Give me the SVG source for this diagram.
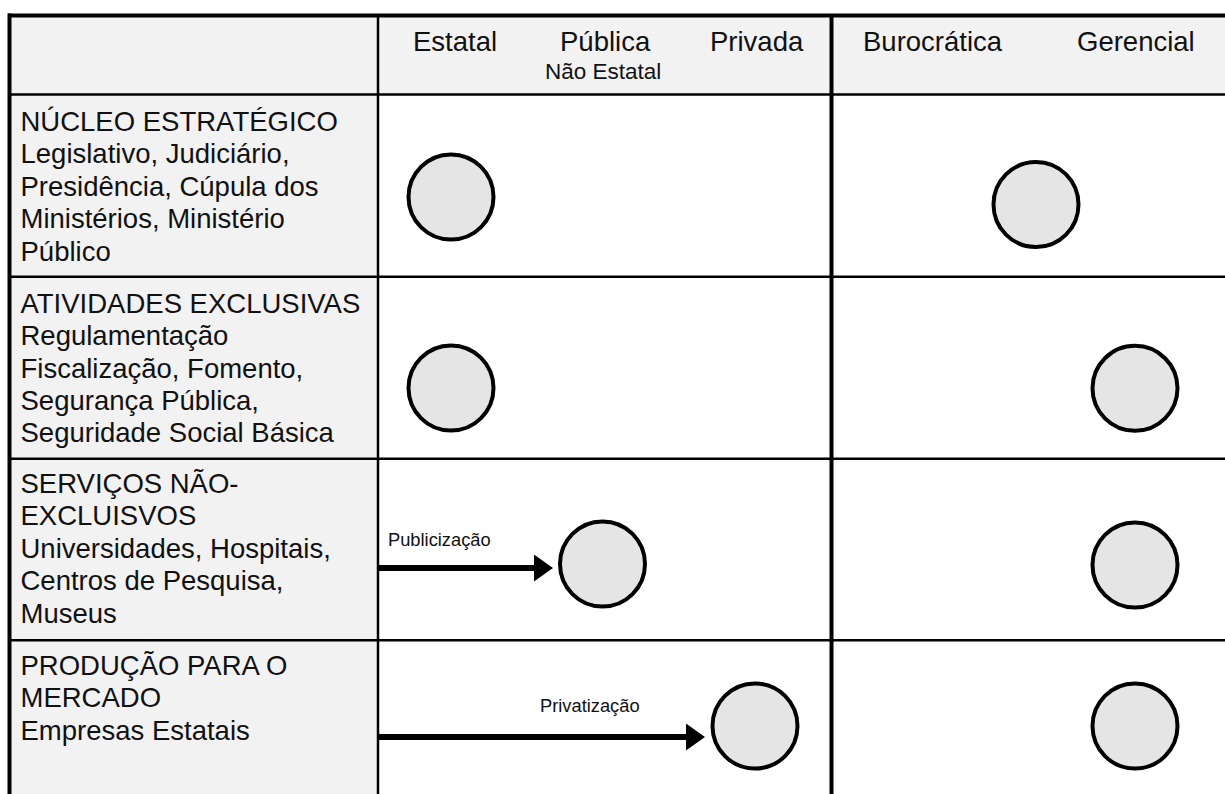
<svg xmlns="http://www.w3.org/2000/svg" width="1225" height="794" viewBox="0 0 1225 794">
  <style>
    .t { font-family: "Liberation Sans", Arial, sans-serif; fill: #111; }
    .lab { font-size: 27.5px; }
    .sub { font-size: 22.5px; }
    .arr { font-size: 18.3px; }
    .grid { stroke: #000; fill: none; }
    .c { fill: #e5e5e5; stroke: #000; stroke-width: 4; }
    .conn { stroke: #000; stroke-width: 6; fill: none; }
  </style>
  <defs>
    <marker id="ah" viewBox="0 0 19 27" markerWidth="19" markerHeight="27" markerUnits="userSpaceOnUse" refX="1" refY="13.5" orient="auto">
      <path d="M0,0 L19,13.5 L0,27 Z" fill="#000"/>
    </marker>
  </defs>
  <rect x="0" y="0" width="1225" height="794" fill="#fff"/>

  <g id="table">
    <rect x="10" y="15" width="1215" height="79" fill="#f2f2f2"/>
    <rect x="10" y="94" width="368" height="700" fill="#f2f2f2"/>
    <line class="grid" x1="8" y1="15.5" x2="1225" y2="15.5" stroke-width="4"/>
    <line class="grid" x1="9.5" y1="13.5" x2="9.5" y2="794" stroke-width="4"/>
    <line class="grid" x1="10" y1="94.5" x2="1225" y2="94.5" stroke-width="2.5"/>
    <line class="grid" x1="10" y1="276.8" x2="1225" y2="276.8" stroke-width="2.5"/>
    <line class="grid" x1="10" y1="458.8" x2="1225" y2="458.8" stroke-width="2.5"/>
    <line class="grid" x1="10" y1="640.3" x2="1225" y2="640.3" stroke-width="2.5"/>
    <line class="grid" x1="378" y1="15" x2="378" y2="794" stroke-width="2.5"/>
    <line class="grid" x1="831.5" y1="15" x2="831.5" y2="794" stroke-width="4"/>
  </g>

  <g id="header">
    <text class="t lab" x="413" y="51">Estatal</text>
    <text class="t lab" x="560" y="51">Pública</text>
    <text class="t sub" x="545" y="79">Não Estatal</text>
    <text class="t lab" x="710" y="51">Privada</text>
    <text class="t lab" x="863" y="51">Burocrática</text>
    <text class="t lab" x="1077" y="51">Gerencial</text>
  </g>

  <g id="row-nucleo">
    <text class="t lab" x="20.5" y="131">NÚCLEO ESTRATÉGICO</text>
    <text class="t lab" x="20.5" y="163.4">Legislativo, Judiciário,</text>
    <text class="t lab" x="20.5" y="195.8">Presidência, Cúpula dos</text>
    <text class="t lab" x="20.5" y="228.2">Ministérios, Ministério</text>
    <text class="t lab" x="20.5" y="260.6">Público</text>
  </g>
  <g id="row-atividades">
    <text class="t lab" x="20.5" y="312.7">ATIVIDADES EXCLUSIVAS</text>
    <text class="t lab" x="20.5" y="345.1">Regulamentação</text>
    <text class="t lab" x="20.5" y="377.5">Fiscalização, Fomento,</text>
    <text class="t lab" x="20.5" y="409.9">Segurança Pública,</text>
    <text class="t lab" x="20.5" y="442.3">Seguridade Social Básica</text>
  </g>
  <g id="row-servicos">
    <text class="t lab" x="20.5" y="493">SERVIÇOS NÃO-</text>
    <text class="t lab" x="20.5" y="525.4">EXCLUISVOS</text>
    <text class="t lab" x="20.5" y="557.8">Universidades, Hospitais,</text>
    <text class="t lab" x="20.5" y="590.2">Centros de Pesquisa,</text>
    <text class="t lab" x="20.5" y="622.6">Museus</text>
  </g>
  <g id="row-producao">
    <text class="t lab" x="20.5" y="675">PRODUÇÃO PARA O</text>
    <text class="t lab" x="20.5" y="707.4">MERCADO</text>
    <text class="t lab" x="20.5" y="739.8">Empresas Estatais</text>
  </g>

  <g id="c-nucleo-estatal"><circle class="c" cx="451" cy="197" r="42.5"/></g>
  <g id="c-nucleo-gestao"><circle class="c" cx="1036" cy="204.5" r="42.5"/></g>
  <g id="c-atividades-estatal"><circle class="c" cx="451" cy="388" r="42.5"/></g>
  <g id="c-atividades-gerencial"><circle class="c" cx="1135" cy="388.3" r="42.5"/></g>
  <g id="c-servicos-publica"><circle class="c" cx="602.5" cy="564" r="42.5"/></g>
  <g id="c-servicos-gerencial"><circle class="c" cx="1135" cy="565" r="42.5"/></g>
  <g id="c-producao-privada"><circle class="c" cx="755" cy="726" r="42.5"/></g>
  <g id="c-producao-gerencial"><circle class="c" cx="1135" cy="726" r="42.5"/></g>

  <g id="connectors">
    <line class="conn" x1="378" y1="568" x2="535" y2="568" marker-end="url(#ah)"/>
    <text class="t arr" x="388" y="546">Publicização</text>
    <line class="conn" x1="378" y1="737" x2="687" y2="737" marker-end="url(#ah)"/>
    <text class="t arr" x="540" y="711.5">Privatização</text>
  </g>
</svg>
